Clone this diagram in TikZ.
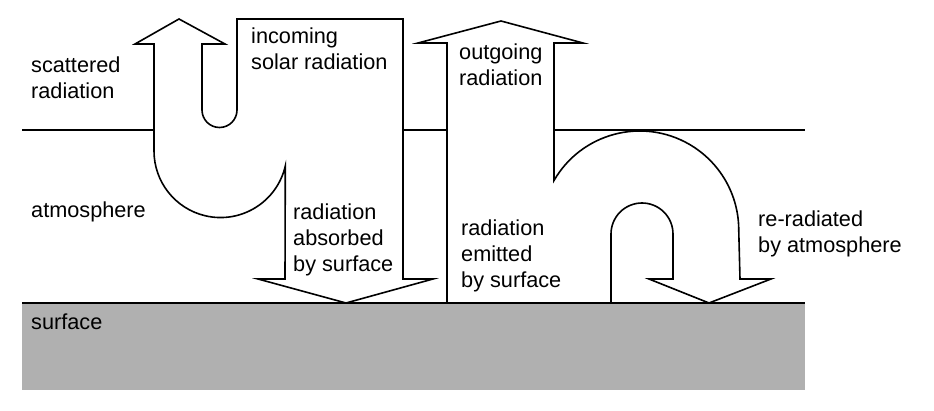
\documentclass[tikz,border=0pt]{standalone}
\usepackage{fontspec}
\setmainfont{Liberation Sans}
\begin{document}
\begin{tikzpicture}[x=1pt,y=-1pt,
  outline/.style={draw=black,line width=1.6pt,line join=miter,fill=white},
  level/.style={draw=black,line width=1.6pt},
  lbl/.style={anchor=base west,inner sep=0pt,font=\fontsize{21.7}{26}\selectfont}]
\useasboundingbox (0,0) rectangle (934,411);
% ground
\fill[fill={rgb,255:red,176;green,176;blue,176}] (22,303) rectangle (805,390);
\draw[level] (22,303) -- (805,303);
% atmosphere boundary segments
\draw[level] (22,130) -- (154,130);
\draw[level] (403,130) -- (447,130);
\draw[level] (554,130) -- (805,130);
% incoming / scattered / absorbed shape
\draw[outline] (179,19) -- (225,44) -- (202,44) -- (202,110)
  arc[start angle=180,end angle=0,radius=17.5]
  -- (237,19) -- (403,19) -- (403,279) -- (433,279) -- (346,303) -- (258,279) -- (285,279) -- (285.3,166)
  arc[start angle=13,end angle=180,radius=66.5]
  -- (154,44) -- (135,44) -- cycle;
% emitted / outgoing / re-radiated shape
\draw[outline] (447,303) -- (447,43) -- (418,43) -- (501,21) -- (583,43) -- (554,43) -- (554,180.5)
  arc[start angle=-150,end angle=0,radius=99]
  -- (740,279) -- (771,279) -- (709,303) -- (649,279) -- (673,279) -- (673,234)
  arc[start angle=0,end angle=-180,radius=31]
  -- (611,303) -- cycle;
% labels
\node[lbl] (scat) at (31,73) {\begin{tabular}[t]{@{}l@{}}scattered\\radiation\end{tabular}};
\node[lbl] (inc) at (251,44) {\begin{tabular}[t]{@{}l@{}}incoming\\solar radiation\end{tabular}};
\node[lbl] (atm) at (31,218) {atmosphere};
\node[lbl] (abs) at (293,220) {\begin{tabular}[t]{@{}l@{}}radiation\\absorbed\\by surface\end{tabular}};
\node[lbl] (out) at (459,60) {\begin{tabular}[t]{@{}l@{}}outgoing\\radiation\end{tabular}};
\node[lbl] (emit) at (461,236) {\begin{tabular}[t]{@{}l@{}}radiation\\emitted\\by surface\end{tabular}};
\node[lbl] (rerad) at (758,227) {\begin{tabular}[t]{@{}l@{}}re-radiated\\by atmosphere\end{tabular}};
\node[lbl] (surf) at (31,330) {surface};
\end{tikzpicture}
\end{document}
